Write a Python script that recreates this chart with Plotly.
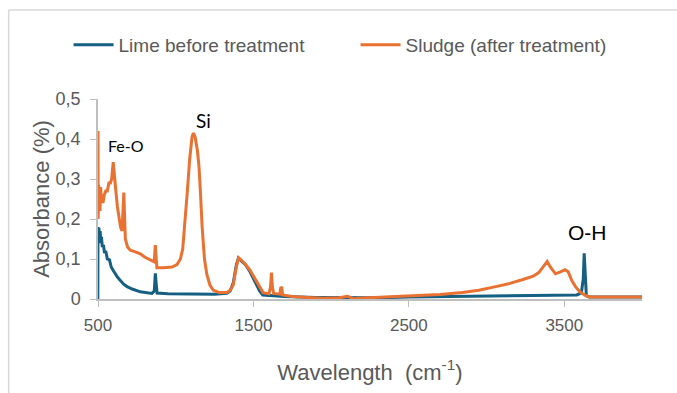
import plotly.graph_objects as go

# ---- data ----
lime_x = [499, 500, 503, 506, 510, 514, 518, 522, 528, 535, 542, 550, 560, 574, 585, 600, 612, 625, 644, 665,
          687, 720, 772, 810, 847, 862, 869, 874, 880, 950, 1050, 1150, 1250, 1329, 1350, 1370, 1390, 1403,
          1420, 1450, 1478, 1510, 1540, 1560, 1620, 1700, 1900, 2100, 2300, 2500, 2800, 3100, 3400, 3580,
          3610, 3622, 3628, 3634, 3642, 3660, 4000]
lime_y = [0.0, 0.18, 0.16, 0.178, 0.15, 0.17, 0.14, 0.155, 0.13, 0.135, 0.115, 0.12, 0.1, 0.098, 0.08, 0.07,
          0.062, 0.055, 0.046, 0.037, 0.031, 0.025, 0.018, 0.016, 0.014, 0.02, 0.064, 0.04, 0.015, 0.013,
          0.013, 0.012, 0.012, 0.014, 0.02, 0.04, 0.085, 0.102, 0.095, 0.085, 0.068, 0.045, 0.02, 0.01, 0.008,
          0.006, 0.004, 0.003, 0.003, 0.005, 0.006, 0.007, 0.008, 0.01, 0.015, 0.05, 0.114, 0.05, 0.008,
          0.005, 0.005]

sludge_x = [500, 501, 504, 507, 510, 513, 517, 521, 526, 532, 540, 550, 560, 570, 580, 588, 594, 598, 603, 608,
            615, 625, 635, 645, 655, 662, 666, 670, 676, 690, 708, 740, 772, 800, 836, 862, 866, 869, 873, 879,
            920, 976, 1008, 1030, 1045, 1060, 1075, 1090, 1105, 1114, 1125, 1140, 1150, 1160, 1170, 1185,
            1200, 1220, 1242, 1280, 1329, 1350, 1370, 1390, 1405, 1420, 1445, 1478, 1510, 1541, 1562, 1600,
            1610, 1616, 1622, 1630, 1670, 1677, 1682, 1688, 1750, 1850, 1950, 2050, 2106, 2130, 2149, 2170,
            2300, 2500, 2700, 2845, 2950, 3059, 3150, 3229, 3300, 3336, 3365, 3390, 3410, 3443, 3475, 3505,
            3525, 3550, 3572, 3600, 3636, 3660, 4000]
sludge_y = [0.42, 0.2, 0.285, 0.24, 0.28, 0.22, 0.28, 0.25, 0.26, 0.24, 0.26, 0.27, 0.27, 0.29, 0.29, 0.3,
            0.33, 0.342, 0.32, 0.29, 0.27, 0.23, 0.2, 0.18, 0.17, 0.22, 0.266, 0.22, 0.15, 0.13, 0.122, 0.118,
            0.113, 0.105, 0.098, 0.093, 0.12, 0.135, 0.11, 0.078, 0.078, 0.08, 0.086, 0.1, 0.125, 0.19, 0.27,
            0.35, 0.405, 0.415, 0.405, 0.37, 0.33, 0.26, 0.18, 0.1, 0.062, 0.035, 0.022, 0.016, 0.016, 0.022,
            0.035, 0.08, 0.103, 0.098, 0.088, 0.072, 0.05, 0.031, 0.016, 0.013, 0.03, 0.066, 0.03, 0.014,
            0.012, 0.03, 0.028, 0.01, 0.006, 0.004, 0.002, 0.003, 0.007, 0.003, 0.0, 0.002, 0.004, 0.007,
            0.011, 0.016, 0.022, 0.031, 0.039, 0.048, 0.057, 0.066, 0.08, 0.094, 0.08, 0.063, 0.068, 0.073,
            0.068, 0.045, 0.031, 0.018, 0.009, 0.005, 0.005]

y_ticks = [0, 0.1, 0.2, 0.3, 0.4, 0.5]
y_ticktext = ["0", "0,1", "0,2", "0,3", "0,4", "0,5"]
x_ticks = [500, 1500, 2500, 3500]

labels = [("Fe-O", 683, 0.385, 16, "Lato"), ("Si", 1176, 0.447, 19, "Lato"), ("O-H", 3650, 0.167, 21, "Liberation Sans")]

BLUE = "#156082"
ORANGE = "#E97132"
GREY = "#595959"

fig = go.Figure()
fig.add_trace(go.Scatter(x=lime_x, y=lime_y, mode="lines", name="Lime before treatment",
                         line=dict(color=BLUE, width=3)))
fig.add_trace(go.Scatter(x=sludge_x, y=sludge_y, mode="lines", name="Sludge (after treatment)",
                         line=dict(color=ORANGE, width=3)))

for text, x, y, size, fam in labels:
    fig.add_annotation(x=x, y=y, text=text, showarrow=False,
                       font=dict(family=fam, size=size, color="#000000"))

W, H = 677, 393
L, R, T, B = 97.5, 34.5, 99, 94
pw, ph = W - L - R, H - T - B

def px(xp):
    return (xp - L) / pw

def py(yp):
    return (H - B - yp) / ph

# outer chart-area border (left and top edges visible)
fig.add_shape(type="line", xref="paper", yref="paper", x0=px(8), x1=px(8), y0=py(10), y1=py(400),
              line=dict(color="#D9D9D9", width=1.5))
fig.add_shape(type="line", xref="paper", yref="paper", x0=px(8), x1=px(690), y0=py(10), y1=py(10),
              line=dict(color="#D9D9D9", width=1.5))

fig.update_layout(
    width=W, height=H,
    margin=dict(l=L, r=R, t=T, b=B),
    paper_bgcolor="white", plot_bgcolor="white",
    showlegend=True,
    legend=dict(orientation="h", x=px(68), xanchor="left", y=py(45), yanchor="middle",
                font=dict(family="Liberation Sans", size=19, color=GREY),
                itemwidth=40, entrywidth=232, entrywidthmode="pixels"),
    xaxis=dict(range=[500, 4000], tickvals=x_ticks, showgrid=False, zeroline=False,
               showline=True, linecolor="#BFBFBF", linewidth=1.5, ticks="outside", ticklen=6,
               tickcolor="#BFBFBF", ticklabelstandoff=4,
               tickfont=dict(family="Liberation Sans", size=17, color=GREY),
               title=dict(text="Wavelength  (cm<sup>-1</sup>)", standoff=30,
                          font=dict(family="Liberation Sans", size=22, color=GREY))),
    yaxis=dict(range=[0, 0.5], tickvals=y_ticks, ticktext=y_ticktext, showgrid=False, zeroline=False,
               showline=True, linecolor="#BFBFBF", linewidth=1.5, ticks="outside", ticklen=6,
               tickcolor="#BFBFBF", ticklabelstandoff=6,
               tickfont=dict(family="Liberation Sans", size=18, color=GREY),
               title=dict(text="Absorbance (%)", standoff=0,
                          font=dict(family="Liberation Sans", size=22, color=GREY))),
)

fig.write_html("out.html")
